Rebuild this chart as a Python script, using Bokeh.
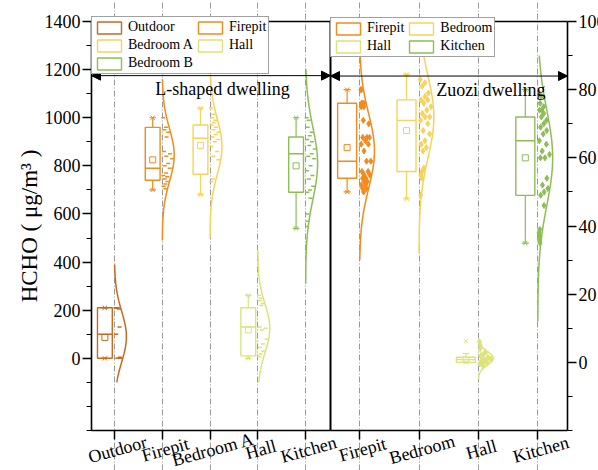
import numpy as np
from bokeh.plotting import figure
from bokeh.models import (ColumnDataSource, FixedTicker, Range1d, Legend, LegendItem,
                          Label, Arrow, NormalHead, LinearAxis, Grid)
from bokeh.embed import file_html
from bokeh.resources import INLINE

FONT = "Liberation Serif"
W, H = 598, 470

# ---------------- L-shaped dwelling (left axis, ug/m3) ----------------
l_cats = ["Outdoor", "Firepit", "Bedroom A", "Hall", "Kitchen"]
l_legend = ["Outdoor", "Firepit", "Bedroom A", "Hall", "Bedroom B"]
l_colors = ["#C8691C", "#F28A1E", "#F8D25A", "#DCE37A", "#8DBE55"]
l_q1 = [0, 740, 765, 10, 690]
l_med = [100, 790, 915, 130, 850]
l_q3 = [210, 960, 970, 210, 920]
l_mean = [87, 825, 885, 118, 800]
l_wlo = [0, 700, 680, 0, 540]
l_whi = [210, 1000, 1040, 262, 1000]
l_min = [0, 700, 680, 0, 540]
l_max = [210, 1000, 1040, 262, 1000]
l_mu = [90, 845, 880, 125, 810]
l_sd = [105, 110, 115, 100, 150]
l_lo = [-100, 490, 500, -100, 310]
l_hi = [390, 1160, 1180, 450, 1200]
l_pts = [
    [210, 210, 208, 205, 130, 100, 4, 0, 0],
    [1000, 960, 950, 940, 920, 860, 850, 840, 830, 810, 800, 790, 770, 760, 755, 745, 735, 725, 715, 705],
    [1040, 1015, 1000, 990, 980, 970, 960, 950, 940, 930, 920, 910, 900, 880, 860, 840, 825, 745, 735],
    [262, 250, 240, 228, 220, 130, 125, 118, 80, 60, 45, 30, 18, 8],
    [1000, 990, 960, 940, 925, 910, 900, 885, 870, 850, 840, 830, 800, 780, 760, 745, 715, 700, 690, 665, 600, 570, 548],
]
l_yticks = [0, 200, 400, 600, 800, 1000, 1200, 1400]
l_yminor = [-300, -200, -100, 100, 300, 500, 700, 900, 1100, 1300]
l_ylim = (-300, 1400)
l_xlim = (0.52, 5.52)

# ---------------- Zuozi dwelling (right axis) ----------------
r_cats = ["Firepit", "Bedroom", "Hall", "Kitchen"]
r_legend = ["Firepit", "Bedroom", "Hall", "Kitchen"]
r_colors = ["#F28A1E", "#F8D25A", "#DCE37A", "#8DBE55"]
r_q1 = [54, 56, 0, 49]
r_med = [59, 71, 0.8, 65]
r_q3 = [76, 77, 1.5, 72]
r_mean = [63, 68, 0.7, 60]
r_wlo = [50, 48, 0, 35]
r_whi = [80, 84.5, 2.6, 80]
r_min = [50, 48, 0, 35]
r_max = [80, 84.5, 6.2, 80]
r_mu = [62, 72, 1.2, 60]
r_sd = [11, 12, 2.0, 14]
r_lo = [30, 32, -5, 12]
r_hi = [98, 98, 7, 90]
r_pts = [
    [80, 80, 76, 76, 76, 75, 75, 71, 70, 66, 66, 66, 65, 64, 64, 62, 59, 59, 56, 56, 55, 55, 54, 54, 53, 53, 52, 52, 51, 51, 50],
    [83, 82, 81, 79, 78, 77, 77, 76, 75, 74, 73, 72, 72, 71, 70, 68, 67, 65, 64, 63, 62, 57, 56, 55, 54, 49],
    [6, 5, 4, 3, 2.5, 2, 1.5, 1, 1, 0.5, 0.5, 0, 0, -0.5, -1],
    [79, 78, 76, 75, 74, 74, 73, 72, 71, 70, 69, 68, 67, 65, 64, 62, 61, 60, 60, 54, 52, 51, 50, 49, 46, 39, 38, 37, 36, 35],
]
r_yticks = [0, 20, 40, 60, 80, 100]
r_yminor = [-20, -10, 10, 30, 50, 70, 90]
r_ylim = (-20, 100)
r_xlim = (0.51, 4.5)

# ---------------- frame geometry (pixels) ----------------
F_TOP, F_BOT = 21.0, 430.0            # top / bottom of the plotting box
L_LEFT, MID, R_RIGHT = 91.0, 330.0, 567.0


def span(lim, p0, p1, size, flip=False):
    ppu = (p1 - p0) / (lim[1] - lim[0])
    if not flip:
        return Range1d(lim[0] - p0 / ppu, lim[1] + (size - p1) / ppu), ppu
    return Range1d(lim[0] - (size - p1) / ppu, lim[1] + p0 / ppu), ppu


lx_range, lpx = span(l_xlim, L_LEFT, MID, W)
ly_range, lpy = span(l_ylim, F_TOP, F_BOT, H, flip=True)
rx_range, rpx = span(r_xlim, MID, R_RIGHT, W)
ry_range, rpy = span(r_ylim, F_TOP, F_BOT, H, flip=True)

p = figure(width=W, height=H, x_range=lx_range, y_range=ly_range,
           x_axis_location=None, y_axis_location=None,
           output_backend="svg", toolbar_location=None, title=None,
           min_border_left=0, min_border_right=0, min_border_top=0, min_border_bottom=0)
p.center = [r for r in p.center if not isinstance(r, Grid)]
p.extra_x_ranges = {"rx": rx_range}
p.extra_y_ranges = {"ry": ry_range}
p.outline_line_color = None
p.background_fill_color = "white"
p.border_fill_color = "white"

L = dict()
R = dict(x_range_name="rx", y_range_name="ry")


def draw_panel(colors, q1, med, q3, mean, wlo, whi, vmin, vmax, mu, sd, lo, hi, pts,
               amp, box_off, box_half, cap_half, pt_marker, pt_size, rn):
    n = len(colors)
    x = np.arange(1, n + 1, dtype=float)
    bx = x - box_off
    src = ColumnDataSource(dict(left=bx - box_half, right=bx + box_half,
                                bottom=q1, top=q3, color=colors))
    box_r = p.quad(left="left", right="right", bottom="bottom", top="top", source=src,
                   fill_color=None, line_color="color", line_width=1.4, **rn)
    p.segment(x0=bx - box_half, x1=bx + box_half, y0=med, y1=med, line_color=colors, line_width=1.4, **rn)
    p.segment(x0=bx, x1=bx, y0=q3, y1=whi, line_color=colors, line_width=1.2, **rn)
    p.segment(x0=bx, x1=bx, y0=q1, y1=wlo, line_color=colors, line_width=1.2, **rn)
    p.segment(x0=bx - cap_half, x1=bx + cap_half, y0=whi, y1=whi, line_color=colors, line_width=1.2, **rn)
    p.segment(x0=bx - cap_half, x1=bx + cap_half, y0=wlo, y1=wlo, line_color=colors, line_width=1.2, **rn)
    p.scatter(x=bx, y=vmin, marker="x", size=6, line_color=colors, line_width=1, **rn)
    p.scatter(x=bx, y=vmax, marker="x", size=6, line_color=colors, line_width=1, **rn)
    p.scatter(x=bx, y=mean, marker="square", size=6, fill_color=None, line_color=colors, line_width=1, **rn)
    xs, ys = [], []
    for i in range(n):
        yy = np.linspace(lo[i], hi[i], 150)
        xx = x[i] + amp * np.exp(-0.5 * ((yy - mu[i]) / sd[i]) ** 2)
        xs.append(list(xx))
        ys.append(list(yy))
    p.multi_line(xs=xs, ys=ys, line_color=colors, line_width=1.5, **rn)
    px, py, pc = [], [], []
    for i, vals in enumerate(pts):
        for j, v in enumerate(vals):
            w = amp * np.exp(-0.5 * ((v - mu[i]) / sd[i]) ** 2)
            frac = (j * 0.618034) % 1.0
            px.append(x[i] + 0.02 + frac * max(w - 0.05, 0.02))
            py.append(v)
            pc.append(colors[i])
    if pt_marker == "dash":
        p.scatter(x=px, y=py, marker="dash", size=pt_size, line_color=pc, line_width=1.5, **rn)
    else:
        p.scatter(x=px, y=py, marker=pt_marker, size=pt_size, fill_color=pc, line_color=pc, **rn)
    return box_r


def frame_parts(cats, yticks, yminor, xlim, ylim, side, rn):
    n = len(cats)
    g = Grid(dimension=0, ticker=FixedTicker(ticks=list(range(1, n + 1))), bounds=ylim,
             grid_line_color="#9a9a9a", grid_line_dash="6 2 1 2", grid_line_width=1, **rn)
    p.add_layout(g)
    xa = LinearAxis(fixed_location=ylim[0], bounds=xlim,
                    ticker=FixedTicker(ticks=list(range(1, n + 1))),
                    major_label_overrides={i + 1: "" for i in range(n)},
                    major_tick_out=9, major_tick_in=0, minor_tick_out=0,
                    axis_line_width=1.6, major_tick_line_width=1.5, **rn)
    p.add_layout(xa, "below")
    ya = LinearAxis(fixed_location=xlim[0] if side == "left" else xlim[1], bounds=ylim,
                    ticker=FixedTicker(ticks=yticks, minor_ticks=yminor),
                    major_tick_out=9, major_tick_in=0, minor_tick_out=5, minor_tick_in=0,
                    axis_line_width=1.6, major_tick_line_width=1.5, minor_tick_line_width=1.2,
                    major_label_text_font=FONT, major_label_text_color="black",
                    major_label_text_font_size="18px", major_label_standoff=2, **rn)
    p.add_layout(ya, side)
    p.segment(x0=[xlim[0]], x1=[xlim[1]], y0=[ylim[1]], y1=[ylim[1]],
              line_color="black", line_width=1.6, **rn)
    return ya


def cat_labels(cats, ylab, rn):
    for i, name in enumerate(cats):
        p.add_layout(Label(x=i + 1, y=ylab, x_offset=3, text=name, angle=0.27,
                           text_align="center", text_baseline="middle", text_font=FONT,
                           text_font_size="18px", text_color="black", **rn))


def make_legend(box_r, labels, loc):
    items = [LegendItem(label=labels[i], renderers=[box_r], index=i) for i in range(len(labels))]
    return Legend(items=items, location=loc, orientation="horizontal", ncols=2,
                  margin=0, padding=2, spacing=2, glyph_width=30, glyph_height=15,
                  label_height=15, label_standoff=4, label_text_font=FONT,
                  label_text_font_size="14px", label_text_color="black",
                  border_line_color="#444444", border_line_width=1,
                  background_fill_color="white", background_fill_alpha=1.0)


def head():
    return NormalHead(size=9, fill_color="black", line_color="black")


# ---------------- left panel ----------------
frame_parts(l_cats, l_yticks, l_yminor, l_xlim, l_ylim, "left", L)
# y-axis title, centred on the plotting box, left of the tick labels
p.add_layout(Label(x=l_xlim[0] - (L_LEFT - 29.0) / lpx, y=(l_ylim[0] + l_ylim[1]) / 2.0,
                   text="HCHO ( μg/m³ )", angle=np.pi / 2, text_align="center",
                   text_baseline="middle", text_font=FONT, text_font_size="23px",
                   text_color="black"))
# divider between the two dwellings
p.segment(x0=[l_xlim[1]], x1=[l_xlim[1]], y0=[l_ylim[0]], y1=[l_ylim[1]],
          line_color="black", line_width=2)

box1 = draw_panel(l_colors, l_q1, l_med, l_q3, l_mean, l_wlo, l_whi, l_min, l_max,
                  l_mu, l_sd, l_lo, l_hi, l_pts, amp=0.25, box_off=0.2, box_half=0.155,
                  cap_half=0.07, pt_marker="dash", pt_size=4, rn=L)
p.add_layout(Arrow(start=head(), end=head(), x_start=l_xlim[0], y_start=1175,
                   x_end=l_xlim[1], y_end=1175, line_color="black", line_width=1))
p.add_layout(Label(x=3.26, y=1120, text="L-shaped dwelling", text_align="center",
                   text_baseline="middle", text_font=FONT, text_font_size="18px",
                   text_color="black"))
cat_labels(l_cats, l_ylim[0] - 19.0 / lpy, L)

# ---------------- right panel ----------------
frame_parts(r_cats, r_yticks, r_yminor, r_xlim, r_ylim, "right", R)
box2 = draw_panel(r_colors, r_q1, r_med, r_q3, r_mean, r_wlo, r_whi, r_min, r_max,
                  r_mu, r_sd, r_lo, r_hi, r_pts, amp=0.25, box_off=0.21, box_half=0.16,
                  cap_half=0.06, pt_marker="diamond", pt_size=6, rn=R)
p.add_layout(Arrow(start=head(), end=head(), x_start=r_xlim[0], y_start=84,
                   x_end=r_xlim[1], y_end=84, line_color="black", line_width=1, **R))
p.add_layout(Label(x=3.21, y=80, text="Zuozi dwelling", text_align="center",
                   text_baseline="middle", text_font=FONT, text_font_size="18px",
                   text_color="black", **R))
cat_labels(r_cats, r_ylim[0] - 19.0 / rpy, R)

# legends (bottom-left corner given in screen px from the frame's bottom-left)
p.add_layout(make_legend(box1, l_legend, (L_LEFT, H - F_TOP - 53)))
p.add_layout(make_legend(box2, r_legend, (MID, H - F_TOP - 36)))

open("out.html", "w").write(file_html(p, INLINE))
